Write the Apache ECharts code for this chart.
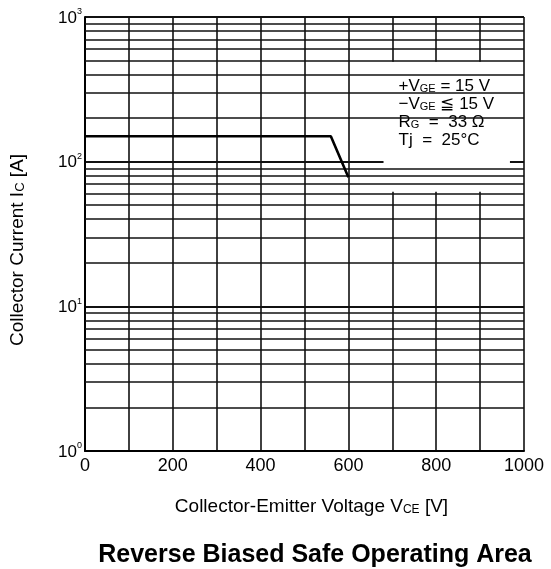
<!DOCTYPE html>
<html>
<head>
<meta charset="utf-8">
<script src="https://cdn.jsdelivr.net/npm/echarts@6/dist/echarts.min.js"></script>
<style>html,body{margin:0;padding:0;background:#fff;}#c{width:551px;height:569px;}</style>
</head>
<body>
<div id="c"></div>
<script>
// ---- data ----
const voltage = [0, 560, 600];          // V_CE [V]
const current = [150, 150, 78];         // I_C [A]
const xTickValues = [0, 200, 400, 600, 800, 1000];
const yDecades = [1, 10, 100];
const yMultipliers = [2, 3, 4, 5, 6, 7, 8, 9];
const conditionLines = [
  '+V{sub|GE} = 15 V',
  '\u2212V{sub|GE} \u2266 15 V',
  'R{sub|G}  =  33 \u03A9',
  'Tj  =  25\u00B0C'
];
const boxX = [680, 968];
const boxY = [62, 490];

const FONT = 'Liberation Sans, Arial, Helvetica, sans-serif';
const minorGrid = [];
yDecades.forEach(d => yMultipliers.forEach(m => minorGrid.push({ yAxis: d * m })));
const curveData = voltage.map((v, i) => [v, current[i]]);

const chart = echarts.init(document.getElementById('c'));
chart.setOption({
  backgroundColor: '#fff',
  animation: false,
  title: {
    text: 'Reverse Biased Safe Operating Area',
    left: 310, top: 538, textAlign: 'center',
    textStyle: { fontFamily: FONT, fontSize: 25, fontWeight: 'bold', color: '#000' }
  },
  grid: { left: 85, right: 27, top: 17, bottom: 118 },
  xAxis: {
    type: 'value', min: 0, max: 1000, interval: 200,
    name: 'Collector-Emitter Voltage V{sub|CE} [V]',
    nameLocation: 'middle', nameGap: 46,
    nameTextStyle: {
      fontFamily: FONT, fontSize: 19, color: '#000', padding: [0, 0, 0, 14],
      rich: { sub: { fontFamily: FONT, fontSize: 12, color: '#000', verticalAlign: 'bottom' } }
    },
    axisLine: { show: true, lineStyle: { color: '#000', width: 2 } },
    axisTick: { show: false },
    axisLabel: {
      fontFamily: FONT, fontSize: 18, color: '#000', margin: 6,
      formatter: v => xTickValues.includes(v) ? String(v) : ''
    },
    splitLine: { show: true, lineStyle: { color: '#111', width: 1.6 } },
    minorTick: { show: false, splitNumber: 2 },
    minorSplitLine: { show: true, lineStyle: { color: '#111', width: 1.6 } }
  },
  yAxis: {
    type: 'log', logBase: 10, min: 1, max: 1000,
    name: 'Collector Current I{sub|C} [A]',
    nameLocation: 'middle', nameGap: 58, nameRotate: 90,
    nameTextStyle: {
      fontFamily: FONT, fontSize: 19, color: '#000', padding: [0, 32, 0, 0],
      rich: { sub: { fontFamily: FONT, fontSize: 13, color: '#000', verticalAlign: 'bottom' } }
    },
    axisLine: { show: true, lineStyle: { color: '#000', width: 2 } },
    axisTick: { show: false },
    axisLabel: {
      margin: 3,
      formatter: v => '{b|10}{s|' + Math.round(Math.log10(v)) + '}',
      rich: {
        b: { fontFamily: FONT, fontSize: 17, color: '#000', lineHeight: 19, verticalAlign: 'bottom' },
        s: { fontFamily: FONT, fontSize: 9, color: '#000', lineHeight: 19, verticalAlign: 'top' }
      }
    },
    splitLine: { show: true, lineStyle: { color: '#111', width: 1.8 } }
  },
  series: [
    {
      type: 'line', z: 1, data: [], silent: true,
      markLine: {
        silent: true, symbol: 'none', label: { show: false },
        lineStyle: { color: '#111', width: 1.5, type: 'solid' },
        data: minorGrid, animation: false
      }
    },
    {
      type: 'line', z: 5, data: [], silent: true,
      markArea: {
        silent: true,
        itemStyle: { color: '#fff', opacity: 1 },
        label: {
          show: true, position: [15, 15],
          formatter: conditionLines.join('\n'),
          fontFamily: FONT, fontSize: 17, color: '#000', lineHeight: 18,
          rich: { sub: { fontFamily: FONT, fontSize: 11, color: '#000', lineHeight: 18, verticalAlign: 'bottom' } }
        },
        data: [[{ xAxis: boxX[0], yAxis: boxY[0] }, { xAxis: boxX[1], yAxis: boxY[1] }]]
      }
    },
    {
      type: 'line', z: 10, data: curveData, symbol: 'none',
      lineStyle: { color: '#000', width: 2.6 }
    }
  ]
});
</script>
</body>
</html>
